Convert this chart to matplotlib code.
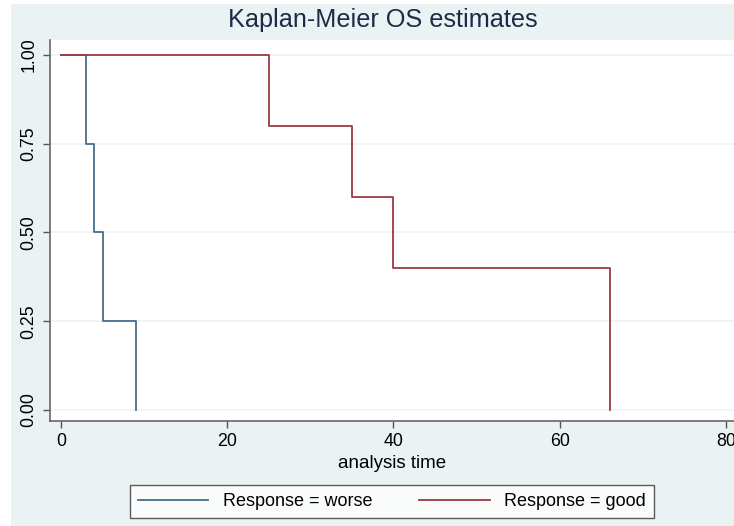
#!/usr/bin/env python3
"""Kaplan-Meier OS estimates, Stata s2color look."""

import matplotlib

matplotlib.use("Agg")

import matplotlib.pyplot as plt
from matplotlib.patches import Rectangle

plt.rcParams["font.family"] = ["Liberation Sans", "DejaVu Sans"]

# step times and survival after each step
WORSE_TIME = [0, 3, 4, 5, 9]
WORSE_SURV = [1.0, 0.75, 0.5, 0.25, 0.0]
GOOD_TIME = [0, 25, 35, 40, 66]
GOOD_SURV = [1.0, 0.8, 0.6, 0.4, 0.0]

X_TICKS = [0, 20, 40, 60, 80]
Y_TICKS = [0.0, 0.25, 0.5, 0.75, 1.0]
Y_LABELS = ["0.00", "0.25", "0.50", "0.75", "1.00"]

BG = "#EAF2F3"
BLUE = "#456E8E"
RED = "#9C3A44"

W, H = 734, 526
fig = plt.figure(figsize=(W / 100, H / 100), dpi=100, facecolor="white")
fig.patches.append(Rectangle((11 / W, 0), 1 - 11 / W, 1 - 4 / H,
                             transform=fig.transFigure, facecolor=BG,
                             edgecolor="none", zorder=-10))

ax = fig.add_axes([50 / W, 1 - 421 / H, (734 - 50) / W, (421 - 40) / H])
ax.set_facecolor("white")

ax.step(WORSE_TIME, WORSE_SURV, where="post", color=BLUE, linewidth=1.3,
        label="Response = worse")
ax.step(GOOD_TIME, GOOD_SURV, where="post", color=RED, linewidth=1.3,
        label="Response = good")

ax.set_xlim(-1.32, 80.96)
ax.set_ylim(-0.031, 1.042)
ax.set_xticks(X_TICKS)
ax.set_yticks(Y_TICKS)
ax.set_yticklabels(Y_LABELS, rotation=90, va="center")
ax.tick_params(axis="both", direction="out", length=5, width=1, color="#555555",
               labelsize=12.8, pad=4)
ax.grid(True, axis="y", color="#EEF3F5", linewidth=1.2)
ax.set_axisbelow(True)

for side in ["top", "right"]:
    ax.spines[side].set_visible(False)
for side in ["left", "bottom"]:
    ax.spines[side].set_color("#666666")
    ax.spines[side].set_linewidth(1.2)

ax.set_xlabel("analysis time", fontsize=13.5, labelpad=3)
fig.text(383 / W, 1 - 20 / H, "Kaplan-Meier OS estimates", ha="center",
         va="center", fontsize=18.2, color="#1C2B4A")

leg = fig.legend(loc="center", bbox_to_anchor=(392 / W, 1 - 501.5 / H), ncol=2,
                 fontsize=13, frameon=True, fancybox=False, handlelength=3.9,
                 columnspacing=2.6, borderpad=0.45, borderaxespad=0,
                 handletextpad=0.8)
leg.get_frame().set_edgecolor("#333333")
leg.get_frame().set_linewidth(1.0)

fig.savefig("out.png", dpi=100)
